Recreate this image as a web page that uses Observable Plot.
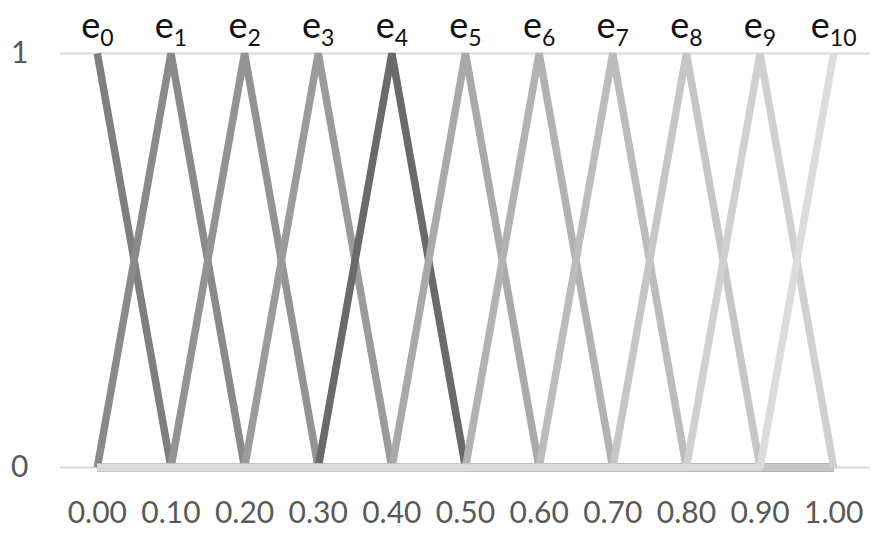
<!DOCTYPE html>
<html>
<head>
<meta charset="utf-8">
<script src="https://cdn.jsdelivr.net/npm/d3@7"></script>
<script src="https://cdn.jsdelivr.net/npm/@observablehq/plot@0.6"></script>
<style>
  html, body { margin: 0; padding: 0; background: #fff; }
  #chart { width: 884px; height: 538px; }
</style>
</head>
<body>
<div id="chart"></div>
<script>
// Category axis labels (x)
const categories = ["0.00","0.10","0.20","0.30","0.40","0.50","0.60","0.70","0.80","0.90","1.00"];
// Series names
const seriesNames = ["e0","e1","e2","e3","e4","e5","e6","e7","e8","e9","e10"];
// Series values (membership grades at each category)
const e0  = [1,0,0,0,0,0,0,0,0,0,0];
const e1  = [0,1,0,0,0,0,0,0,0,0,0];
const e2  = [0,0,1,0,0,0,0,0,0,0,0];
const e3  = [0,0,0,1,0,0,0,0,0,0,0];
const e4  = [0,0,0,0,1,0,0,0,0,0,0];
const e5  = [0,0,0,0,0,1,0,0,0,0,0];
const e6  = [0,0,0,0,0,0,1,0,0,0,0];
const e7  = [0,0,0,0,0,0,0,1,0,0,0];
const e8  = [0,0,0,0,0,0,0,0,1,0,0];
const e9  = [0,0,0,0,0,0,0,0,0,1,0];
const e10 = [0,0,0,0,0,0,0,0,0,0,1];
const seriesValues = [e0,e1,e2,e3,e4,e5,e6,e7,e8,e9,e10];
// Y tick values
const yTicks = [0, 1];

// Palette (style, separate from data)
const palette = ["#7f7f7f","#8a8a8a","#939393","#9b9b9b","#6a6a6a","#a9a9a9","#b2b2b2","#bcbcbc","#c6c6c6","#d0d0d0","#dcdcdc"];

const rows = [];
seriesNames.forEach((s, i) => {
  seriesValues[i].forEach((v, j) => rows.push({series: s, x: categories[j], y: v}));
});
const peaks = rows.filter(d => d.y === 1);

const chart = Plot.plot({
  width: 884,
  height: 538,
  marginLeft: 60,
  marginRight: 14,
  marginTop: 53,
  marginBottom: 71,
  style: {fontFamily: "Lato, sans-serif", background: "#fff"},
  x: {type: "point", domain: categories, padding: 0.5, round: false},
  y: {domain: [0, 1]},
  color: {domain: seriesNames, range: palette},
  marks: [
    Plot.ruleY(yTicks, {stroke: "#d9d9d9", strokeWidth: 2}),
    Plot.axisX({tickSize: 0, tickPadding: 34, fontSize: 30, fill: "#595959", label: null}),
    Plot.axisY({ticks: yTicks, tickSize: 0, tickPadding: 32, fontSize: 30, fill: "#595959", label: null, tickFormat: d => String(d)}),
    Plot.line(rows, {x: "x", y: "y", z: "series", stroke: "series", strokeWidth: 7.5, strokeLinejoin: "miter", strokeLinecap: "butt", curve: "linear"}),
    Plot.text(peaks, {x: "x", y: "y", text: "series", fontSize: 36, fill: "#111", textAnchor: "middle", lineAnchor: "bottom", dy: -16})
  ]
});
document.getElementById("chart").appendChild(chart);

// Render label subscripts: "e" + subscript index
d3.select(chart).selectAll("text").each(function() {
  const t = this.textContent;
  const m = /^e(\d+)$/.exec(t);
  if (!m) return;
  const sel = d3.select(this);
  sel.text(null);
  sel.append("tspan").text("e");
  sel.append("tspan").attr("font-size", 23).attr("dy", 8).text(m[1]);
});
</script>
</body>
</html>
